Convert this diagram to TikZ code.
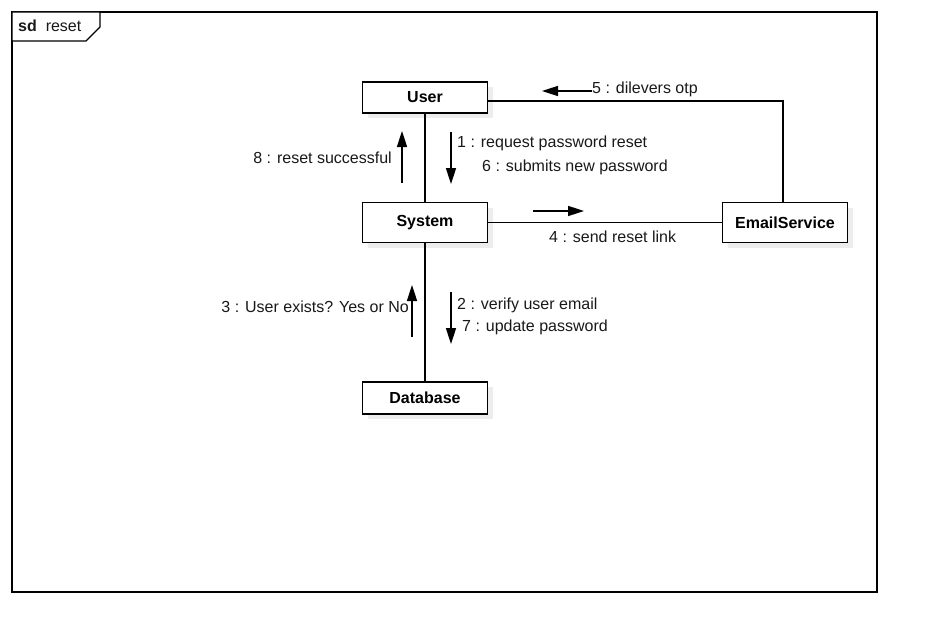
\documentclass[tikz,border=0pt]{standalone}
\usepackage{fontspec}
\setmainfont{Liberation Sans}
\usetikzlibrary{arrows.meta,positioning,shadows}

\gdef\boxfill{white}
\gdef\shadefill{black!7}

\begin{document}
\begin{tikzpicture}[x=1pt, y=-1pt, node distance=125pt,
  font=\fontsize{16}{19}\selectfont,
  obj/.style={draw, line width=1.4pt, fill=\boxfill, inner sep=0pt,
    minimum width=125pt, minimum height=40pt,
    font=\fontsize{16}{19}\selectfont\bfseries,
    drop shadow={shadow xshift=5pt, shadow yshift=-5pt, fill=\shadefill, opacity=1}},
  link/.style={line width=1.1pt},
  msg/.style={line width=1.6pt, -{Triangle[length=16pt,width=10pt]}},
  lbl/.style={inner sep=0pt, text=black!90}]

\useasboundingbox[fill=white] (0,0) rectangle (927,642);

% frame
\coordinate (fnw) at (12,12);
\coordinate (fse) at (877,592);
\draw[line width=1.4pt] (fnw) rectangle (fse);
\draw[line width=1.2pt, fill=white] (fnw) -- (100,12) -- (100,27) -- (86,41) -- (12,41) -- cycle;
\node[lbl, anchor=west] (sd) at (18,26) {\textbf{sd}\ \ reset};

% objects
\node[obj, minimum height=31pt] (User) at (425,97.5) {User};
\node[obj] (System) [below of=User] {System};
\node[obj, minimum height=32pt, node distance=175.5pt] (Database) [below of=System] {Database};
\node[obj, node distance=360pt] (EmailService) [right of=System] {EmailService};

% links
\draw[link] (User) -- (System);
\draw[link] (System) -- (Database);
\draw[link] (System) -- (EmailService);
\draw[link] ([yshift=-3.5pt]User.east) -| ([xshift=-2pt]EmailService.north);

% messages
\coordinate (m1a) at (451,132);
\coordinate (m1b) at (451,184);
\coordinate (m8a) at (402,183);
\coordinate (m8b) at (402,131);
\coordinate (m4a) at (533,211);
\coordinate (m4b) at (584,211);
\coordinate (m5a) at (592,91);
\coordinate (m5b) at (542,91);
\coordinate (m3a) at (412,337);
\coordinate (m3b) at (412,285);
\coordinate (m2a) at (451,292);
\coordinate (m2b) at (451,344);

\draw[msg] (m1a) -- (m1b);
\draw[msg] (m8a) -- (m8b);
\draw[msg] (m4a) -- (m4b);
\draw[msg] (m5a) -- (m5b);
\draw[msg] (m3a) -- (m3b);
\draw[msg] (m2a) -- (m2b);

\node[lbl, anchor=west] (l1) at (457,143) {1 : request password reset};
\node[lbl, anchor=west] (l6) at (482,167) {6 : submits new password};
\node[lbl, anchor=east] (l8) at (392,158) {8 : reset successful};
\node[lbl, anchor=west] (l4) at (549,237) {4 : send reset link};
\node[lbl, anchor=west] (l5) at (592,89) {5 : dilevers otp};
\node[lbl, anchor=east] (l3) at (409,307) {3 : User exists? Yes or No};
\node[lbl, anchor=west] (l2) at (457,305) {2 : verify user email};
\node[lbl, anchor=west] (l7) at (462,327) {7 : update password};

\end{tikzpicture}
\end{document}
